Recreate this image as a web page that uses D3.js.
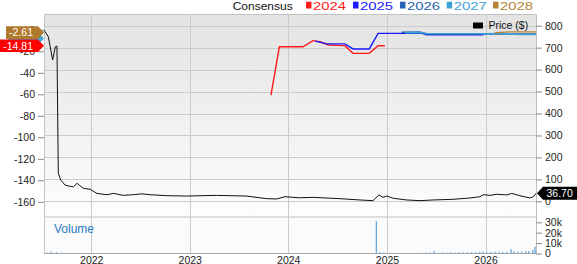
<!DOCTYPE html>
<html>
<head>
<meta charset="utf-8">
<script src="https://cdn.jsdelivr.net/npm/d3@7"></script>
<style>
  body { margin: 0; background: #fff; }
  svg { display: block; font-family: "Liberation Sans", Arial, sans-serif; }
</style>
</head>
<body>
<svg id="chart" width="577" height="264"></svg>
<script>
// ---- data ----
const priceDates = ["2021-07-10","2021-07-26","2021-08-11","2021-08-21","2021-08-27","2021-09-01","2021-09-10","2021-09-26","2021-10-08","2021-10-27","2021-11-10","2021-11-20","2021-12-03","2021-12-28","2022-01-22","2022-02-28","2022-03-25","2022-04-30","2022-06-07","2022-07-07","2022-08-07","2022-10-08","2022-12-21","2023-04-10","2023-07-30","2023-10-13","2023-11-19","2023-12-20","2024-01-19","2024-02-13","2024-04-02","2024-07-10","2024-09-23","2024-11-10","2024-12-02","2024-12-17","2024-12-31","2025-01-24","2025-03-15","2025-05-03","2025-06-20","2025-09-02","2025-11-04","2025-12-11","2025-12-23","2026-01-18","2026-02-12","2026-03-21","2026-04-08","2026-05-08","2026-06-15","2026-06-28","2026-07-07"];
const priceValues = [780,750,644,704,707,129,97,74,70,66,82,71,59,55,36,30,36,27,30,34,30,25.5,24,27,24,12,10.5,21,18,16,18,12,6,3,29,18,24,13.7,6,3,6,9,15,21,30,27,32,29,36,25.5,15,21,36.7];

const consensusYears = ["2024","2025","2026","2027","2028"];
const consensusColors = ["#ff1a1a","#1a1aff","#2563b0","#3fa2d6","#b5853a"];
const c2024Dates = ["2023-10-29","2023-11-29","2024-02-25","2024-04-01","2024-04-28","2024-05-29","2024-07-29","2024-08-28","2024-10-27","2024-11-29","2024-12-24"];
const c2024Values = [484,704,704,732,727,712,709,674,674,709,709];
const c2025Dates = ["2024-04-10","2024-05-23","2024-07-29","2024-08-28","2024-10-27","2024-11-29","2025-05-10","2025-05-28","2025-12-24"];
const c2025Values = [730,717,717,694,694,765,765,759,759];
const c2026Dates = ["2025-02-24","2025-05-03","2025-05-28","2026-07-07"];
const c2026Values = [770,771,762,762];
const c2027Dates = ["2025-03-08","2025-05-03","2025-06-01","2025-12-24","2026-02-24","2026-05-08","2026-07-07"];
const c2027Values = [768,769,764,764,765,760,760];
const c2028Dates = ["2026-02-05","2026-04-01","2026-07-07"];
const c2028Values = [768,772,772];

const volDates = ["2021-07-20","2021-08-05","2021-08-25","2021-09-15","2021-10-15","2021-11-15","2021-12-15","2022-02-15","2022-04-15","2022-06-15","2022-08-15","2022-10-15","2022-12-15","2023-02-15","2023-04-15","2023-06-15","2023-08-15","2023-10-15","2023-12-15","2024-02-15","2024-04-15","2024-06-15","2024-08-15","2024-10-15","2024-11-22","2024-12-05","2024-12-20","2025-01-10","2025-01-25","2025-02-10","2025-02-25","2025-03-10","2025-03-25","2025-04-10","2025-04-25","2025-05-10","2025-05-25","2025-06-10","2025-06-24","2025-07-10","2025-07-25","2025-08-10","2025-08-25","2025-09-10","2025-09-25","2025-10-10","2025-10-25","2025-11-10","2025-11-25","2025-12-10","2025-12-22","2026-01-05","2026-01-20","2026-02-05","2026-02-20","2026-03-05","2026-03-20","2026-04-05","2026-04-15","2026-04-30","2026-05-15","2026-05-30","2026-06-10","2026-06-25","2026-07-03"];
const volValues = [800,1700,1200,600,400,300,300,250,200,250,200,200,150,200,150,200,150,200,250,200,250,200,300,300,31000,1200,900,600,500,400,500,400,600,500,700,600,800,1000,2600,700,900,800,1000,900,1100,1000,1200,1300,1100,1500,1800,1200,1400,1600,1300,1500,1700,4200,2000,1600,1800,2200,2400,3500,6500];

const rightTicks = [0,100,200,300,400,500,600,700,800];
const leftTicks = [-160,-140,-120,-100,-80,-60,-40,-20,0];
const volTicks = [0,10000,20000,30000];
const yearTicks = ["2022-01-01","2023-01-01","2024-01-01","2025-01-01","2026-01-01"];

// EPS tags on the left axis (one is mostly hidden behind the others)
const tagValues = [-8.1, -2.61, -14.81];
const tagColors = ["#45a3dc", "#b07a2c", "#ff0000"];
const tagLabels = [null, "-2.61", "-14.81"];
const tagStarts = [8, 6, 0];
const lastPrice = 36.70;

// ---- layout ----
const parse = d3.timeParse("%Y-%m-%d");
const svg = d3.select("#chart");
const L = 44, R = 536, T = 14, PB = 216, VT = 218, VB = 253.5;

const x = d3.scaleTime().domain([parse("2021-07-10"), parse("2026-07-07")]).range([L, R]);
const yR = d3.scaleLinear().domain([0, 800]).range([201.3, 25.7]);
const yL = d3.scaleLinear().domain([-160, -40]).range([201.8, 72.8]);
const yV = d3.scaleLinear().domain([0, 30000]).range([VB, 222.3]);

const defs = svg.append("defs");
const grad = defs.append("linearGradient").attr("id", "bg").attr("x1", 0).attr("y1", 0).attr("x2", 0).attr("y2", 1);
grad.append("stop").attr("offset", "0%").attr("stop-color", "#e3e3e3");
grad.append("stop").attr("offset", "100%").attr("stop-color", "#fdfdfd");

svg.append("rect").attr("x", L).attr("y", T).attr("width", R - L).attr("height", PB - T).attr("fill", "url(#bg)");
svg.append("rect").attr("x", L).attr("y", PB).attr("width", R - L).attr("height", VT - PB).attr("fill", "#dedede");
svg.append("rect").attr("x", L).attr("y", VT).attr("width", R - L).attr("height", VB - VT).attr("fill", "#fbfbfb");

// grid
svg.append("g").selectAll("line").data(rightTicks).join("line")
  .attr("x1", L).attr("x2", R)
  .attr("y1", d => Math.round(yR(d)) + 0.5).attr("y2", d => Math.round(yR(d)) + 0.5)
  .attr("stroke", "#cbcbcb");
svg.append("g").selectAll("line").data(yearTicks).join("line")
  .attr("x1", d => Math.round(x(parse(d))) + 0.5).attr("x2", d => Math.round(x(parse(d))) + 0.5)
  .attr("y1", T).attr("y2", VB)
  .attr("stroke", "#cbcbcb");

// frame
svg.append("path")
  .attr("d", `M${L + 0.5},${VB}V${T + 0.5}H${R + 0.5}V${VB}`)
  .attr("fill", "none").attr("stroke", "#c2c2c2");
svg.append("line").attr("x1", L).attr("x2", R + 1).attr("y1", VB).attr("y2", VB).attr("stroke", "#aaa");

// volume
svg.append("g").selectAll("rect").data(volDates.map((d, i) => [parse(d), volValues[i]])).join("rect")
  .attr("x", d => x(d[0]) - 0.5).attr("width", 1.2)
  .attr("y", d => yV(d[1])).attr("height", d => VB - yV(d[1]))
  .attr("fill", "#5b9fd6");

svg.append("text").attr("x", 54).attr("y", 233).attr("font-size", 12).attr("fill", "#2b7bbf").text("Volume");

// consensus lines
const cDates = [c2024Dates, c2025Dates, c2026Dates, c2027Dates, c2028Dates];
const cValues = [c2024Values, c2025Values, c2026Values, c2027Values, c2028Values];
const line = d3.line().x(d => x(d[0])).y(d => yR(d[1]));
consensusYears.forEach((yr, k) => {
  const pts = cDates[k].map((d, i) => [parse(d), cValues[k][i]]);
  svg.append("path").datum(pts).attr("d", line)
    .attr("fill", "none").attr("stroke", consensusColors[k]).attr("stroke-width", 1.4);
});

// price
svg.append("path").datum(priceDates.map((d, i) => [parse(d), priceValues[i]]))
  .attr("d", line).attr("fill", "none").attr("stroke", "#111").attr("stroke-width", 1);

// axes
function styleAxis(g, size) {
  g.select(".domain").remove();
  g.selectAll(".tick line").attr("stroke", "#8a8a8a");
  g.selectAll(".tick text").attr("fill", "#222").attr("font-size", size).attr("font-family", "Liberation Sans, Arial, sans-serif");
}
svg.append("g").attr("transform", `translate(${R},0)`)
  .call(d3.axisRight(yR).tickValues(rightTicks).tickSize(6).tickPadding(3).tickFormat(d => String(d)))
  .call(g => styleAxis(g, 10.5));
svg.append("g").attr("transform", `translate(${R},0)`)
  .call(d3.axisRight(yV).tickValues(volTicks).tickSize(6).tickPadding(3).tickFormat(d => d ? d / 1000 + "k" : "0"))
  .call(g => styleAxis(g, 10.5));
svg.append("g").attr("transform", `translate(${L},0)`)
  .call(d3.axisLeft(yL).tickValues(leftTicks).tickSize(6).tickPadding(3).tickFormat(d => String(d)))
  .call(g => styleAxis(g, 10.5));
svg.append("g").attr("transform", `translate(0,${VB})`)
  .call(d3.axisBottom(x).tickValues(yearTicks.map(parse)).tickSize(0).tickPadding(3).tickFormat(d3.timeFormat("%Y")))
  .call(g => styleAxis(g, 10.5));

// left tags
const hh = 6.3;
tagValues.forEach((v, i) => {
  const c = yL(v), x0 = tagStarts[i], tip = L;
  svg.append("path")
    .attr("d", `M${x0},${c - hh}H${tip - 6}L${tip},${c}L${tip - 6},${c + hh}H${x0}Z`)
    .attr("fill", tagColors[i]);
  if (tagLabels[i]) {
    svg.append("text").attr("x", 33).attr("y", c + 3.8).attr("text-anchor", "end")
      .attr("font-size", 10.5).attr("fill", "#fff").text(tagLabels[i]);
  }
});

// last price tag
{
  const c = yR(lastPrice);
  svg.append("path")
    .attr("d", `M${R + 1},${c}L${R + 7},${c - 6.5}H577V${c + 6.5}H${R + 7}Z`)
    .attr("fill", "#000");
  svg.append("text").attr("x", 546.5).attr("y", c + 3.8).attr("font-size", 10.5).attr("fill", "#fff")
    .text(lastPrice.toFixed(2));
}

// price legend
svg.append("rect").attr("x", 473).attr("y", 22.5).attr("width", 10).attr("height", 6).attr("fill", "#000");
svg.append("text").attr("x", 488.5).attr("y", 29).attr("font-size", 10.5).attr("fill", "#111").text("Price ($)");

// consensus legend
svg.append("text").attr("x", 232.7).attr("y", 9.5).attr("font-size", 11.5).attr("fill", "#111")
  .attr("textLength", 60).attr("lengthAdjust", "spacingAndGlyphs").text("Consensus");
const legX = [306, 353, 400, 446.7, 493];
consensusYears.forEach((yr, k) => {
  svg.append("rect").attr("x", legX[k]).attr("y", 1.7).attr("width", 5.5).attr("height", 6.8).attr("fill", consensusColors[k]);
  svg.append("text").attr("x", legX[k] + 7).attr("y", 9.5).attr("font-size", 11.5).attr("fill", consensusColors[k])
    .attr("textLength", 33).attr("lengthAdjust", "spacingAndGlyphs").text(yr);
});
</script>
</body>
</html>
